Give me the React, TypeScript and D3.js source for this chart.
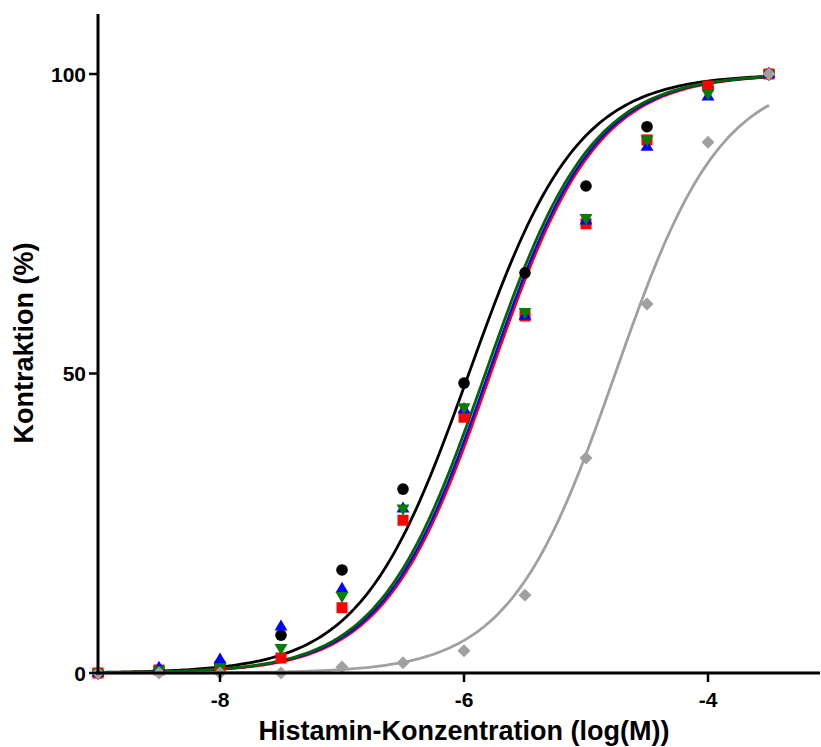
import React from "react";
import * as d3 from "d3";

const xLevels = [-9, -8.5, -8, -7.5, -7, -6.5, -6, -5.5, -5, -4.5, -4, -3.5];
const blackValues = [0, 0.5, 1.5, 6.3, 17.2, 30.7, 48.4, 66.8, 81.3, 91.2, 97.7, 100];
const blueValues = [0, 0.8, 2.2, 7.7, 14, 27.4, 44, 59.6, 75.5, 87.8, 96.2, 100];
const greenValues = [0, 0.5, 1, 4.2, 12.9, 27.5, 44.4, 60.3, 76, 89.1, 96.8, 100];
const redValues = [0, 0.5, 1, 2.5, 10.9, 25.5, 42.7, 59.6, 75, 89, 98, 100];
const grayValues = [0, 0, 0, 0, 1, 1.7, 3.7, 13, 35.9, 61.6, 88.6, 100];

// fitted sigmoid parameters [logEC50, hill]
const blackFit = [-5.96, 0.98];
const blueFit = [-5.80, 1.0];
const greenFit = [-5.825, 1.0];
const redFit = [-5.782, 1.0];
const grayFit = [-4.76, 1.0];

const xTicks = [-8, -6, -4];
const yTicks = [0, 50, 100];

const W = 821, H = 747;
const x = d3.scaleLinear().domain([-9, -3.082]).range([98, 820]);
const y = d3.scaleLinear().domain([0, 100]).range([673, 74]);

function curve(fit: number[]) {
  const pts: [number, number][] = [];
  for (let i = 0; i <= 220; i++) {
    const lx = -9 + (5.5 * i) / 220;
    pts.push([lx, 100 / (1 + Math.pow(10, (fit[0] - lx) * fit[1]))]);
  }
  return d3.line<[number, number]>().x(d => x(d[0])).y(d => y(d[1]))(pts) || "";
}

const font = "'Liberation Sans', Arial, sans-serif";

export default function App() {
  const sq = d3.symbol().type(d3.symbolSquare).size(121)() || "";
  const tri = d3.symbol().type(d3.symbolTriangle).size(72)() || "";
  const dia = d3.symbol().type(d3.symbolSquare).size(84)() || "";
  const series = [
    { fit: blackFit, color: "#000000", w: 2.8 },
    { fit: redFit, color: "#ff0000", w: 2.8 },
    { fit: blueFit, color: "#0000ff", w: 2.4 },
    { fit: greenFit, color: "#006400", w: 2.8 },
    { fit: grayFit, color: "#a0a0a0", w: 2.8 },
  ];
  return (
    <svg width={W} height={H} style={{ position: "absolute", left: 0, top: 0 }} fontFamily={font}>
      <rect width={W} height={H} fill="#fff" />
      {series.map((s, i) => (
        <path key={i} d={curve(s.fit)} fill="none" stroke={s.color} strokeWidth={s.w} />
      ))}
      {blackValues.map((v, i) => (
        <circle key={"k" + i} cx={x(xLevels[i])} cy={y(v)} r={5.8} fill="#000" />
      ))}
      {redValues.map((v, i) => (
        <path key={"r" + i} d={sq} transform={`translate(${x(xLevels[i])},${y(v)})`} fill="#ff0000" />
      ))}
      {blueValues.map((v, i) => (
        <path key={"b" + i} d={tri} transform={`translate(${x(xLevels[i])},${y(v)})`} fill="#0000ff" />
      ))}
      {greenValues.map((v, i) => (
        <path key={"g" + i} d={tri} transform={`translate(${x(xLevels[i])},${y(v)}) rotate(180)`} fill="#008000" />
      ))}
      {grayValues.map((v, i) => (
        <path key={"d" + i} d={dia} transform={`translate(${x(xLevels[i])},${y(v)}) rotate(45)`} fill="#a0a0a0" />
      ))}
      {/* axes */}
      <line x1={98} x2={98} y1={14} y2={674.5} stroke="#000" strokeWidth={3} />
      <line x1={96.5} x2={820} y1={673} y2={673} stroke="#000" strokeWidth={3} />
      {yTicks.map(t => (
        <g key={"yt" + t}>
          <line x1={89} x2={98} y1={y(t)} y2={y(t)} stroke="#000" strokeWidth={2.5} />
          <text x={86} y={y(t)} dy="0.36em" textAnchor="end" fontSize={21} fontWeight="bold">{t}</text>
        </g>
      ))}
      {xTicks.map(t => (
        <g key={"xt" + t}>
          <line x1={x(t)} x2={x(t)} y1={673} y2={682} stroke="#000" strokeWidth={2.5} />
          <text x={x(t)} y={707} textAnchor="middle" fontSize={21} fontWeight="bold">{t}</text>
        </g>
      ))}
      <text x={464} y={740} textAnchor="middle" fontSize={27} fontWeight="bold">Histamin-Konzentration (log(M))</text>
      <text transform="translate(33,343) rotate(-90)" textAnchor="middle" fontSize={27} fontWeight="bold">Kontraktion (%)</text>
    </svg>
  );
}
